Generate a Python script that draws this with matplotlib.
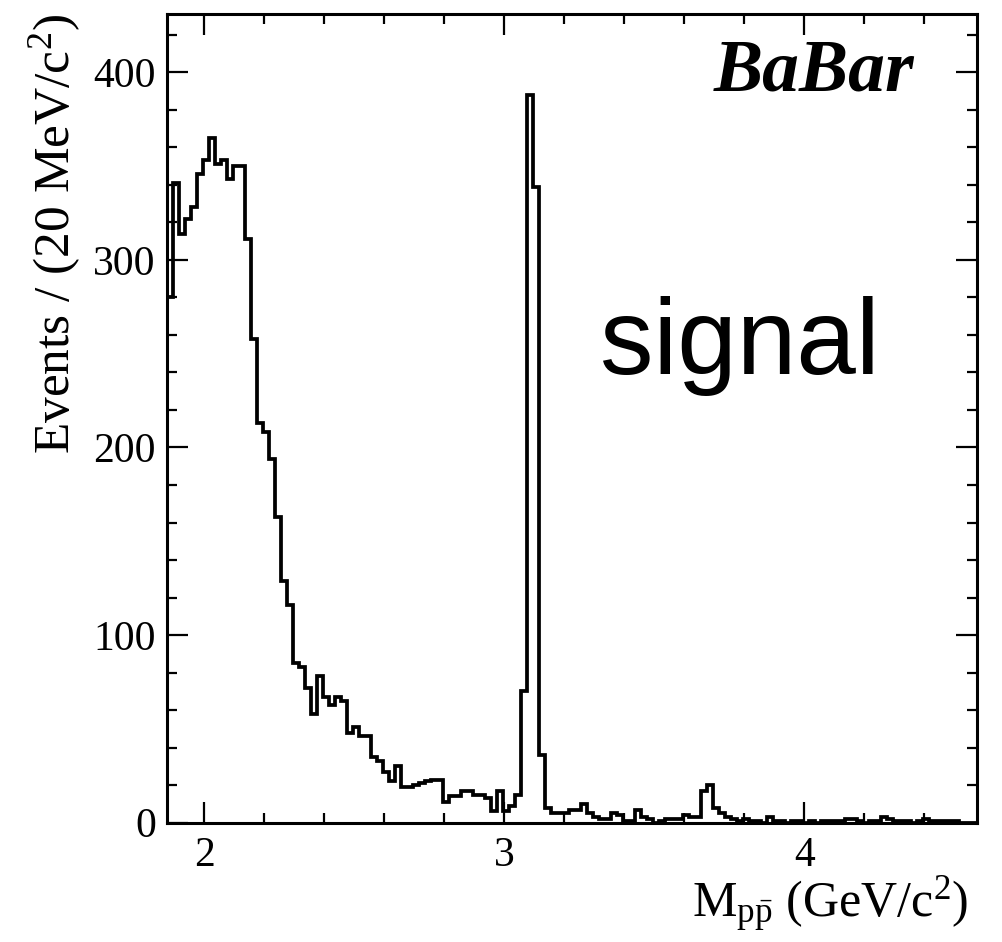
import numpy as np
import matplotlib
matplotlib.use("Agg")
import matplotlib.pyplot as plt
from matplotlib.ticker import MultipleLocator

plt.rcParams["font.family"] = ["Liberation Serif", "DejaVu Serif"]
plt.rcParams["mathtext.fontset"] = "custom"
plt.rcParams["mathtext.rm"] = "Liberation Serif"
plt.rcParams["mathtext.it"] = "Liberation Serif:italic"
plt.rcParams["mathtext.bf"] = "Liberation Serif:bold"

# p pbar invariant mass histogram: threshold 2 m_p, 20 MeV bins
mass_min = 1.876
bin_width = 0.02

# events per bin (threshold region, falling continuum, J/psi, psi(2S), tail)
counts_threshold = [280, 341, 314, 322, 328, 346, 353, 365, 351, 353,
                    343, 350, 350, 311, 258, 213, 208, 194, 163, 129,
                    116, 85, 83, 72, 58, 78, 67, 63, 67, 65]
counts_continuum = [48, 51, 46, 46, 35, 33, 27, 22, 30, 19,
                    19, 20, 21, 22, 23, 23, 11, 14, 14, 17,
                    17, 15, 15, 13, 6, 17, 6, 9, 15]
counts_jpsi = [70, 388, 339, 36, 8, 5, 5, 5, 7, 7,
               10, 5, 3, 2, 2, 5, 4, 1, 1, 7,
               3, 2, 0, 1, 2, 2, 2, 4, 3, 3]
counts_psi2s = [17, 20, 8, 5, 3]
counts_tail = [2, 1, 2, 1, 1, 0, 3, 1, 1, 0,
               1, 1, 0, 1, 0, 1, 1, 1, 1, 2,
               2, 1, 0, 1, 1, 3, 2, 1, 1, 1,
               0, 1, 2, 1, 1, 1, 1, 1, 0, 0, 0]

counts = np.array(counts_threshold + counts_continuum + counts_jpsi
                  + counts_psi2s + counts_tail, dtype=float)
edges = mass_min + bin_width * np.arange(len(counts) + 1)

fig = plt.figure(figsize=(10.02, 9.42), dpi=100)
ax = fig.add_axes([0.1667, 0.1266, 0.8083, 0.8585])

ax.stairs(counts, edges, baseline=None, color="black", linewidth=2.7)

ax.set_xlim(edges[0], edges[-1])
ax.set_ylim(0, 431)

ax.xaxis.set_major_locator(MultipleLocator(1.0))
ax.xaxis.set_minor_locator(MultipleLocator(0.2))
ax.yaxis.set_major_locator(MultipleLocator(100))
ax.yaxis.set_minor_locator(MultipleLocator(20))

ax.tick_params(which="both", direction="in", top=True, right=True,
               width=1.6, colors="black", labelsize=30)
ax.tick_params(which="major", length=15)
ax.tick_params(which="minor", length=7.5)
ax.tick_params(axis="y", which="major", pad=8)
ax.tick_params(axis="x", which="major", pad=10)

for sp in ax.spines.values():
    sp.set_linewidth(2.2)
    sp.set_color("black")

fig.text(0.055, 1 - 14 / 942, r"Events / (20 MeV/c$^{2}$)", rotation=90,
         ha="center", va="top", fontsize=37)
fig.text(968 / 1002, 1 - 917 / 942, r"M$_{\mathrm{p\bar{p}}}$ (GeV/c$^{2}$)",
         ha="right", va="baseline", fontsize=36)

ax.text(0.923, 0.928, "BaBar", transform=ax.transAxes, ha="right",
        va="center", fontsize=53, fontweight="bold", fontstyle="italic")
ax.text(0.535, 0.59, "signal", transform=ax.transAxes, ha="left",
        va="center", fontsize=77, family=["Liberation Sans", "DejaVu Sans"])

fig.savefig("out.png", dpi=100)
